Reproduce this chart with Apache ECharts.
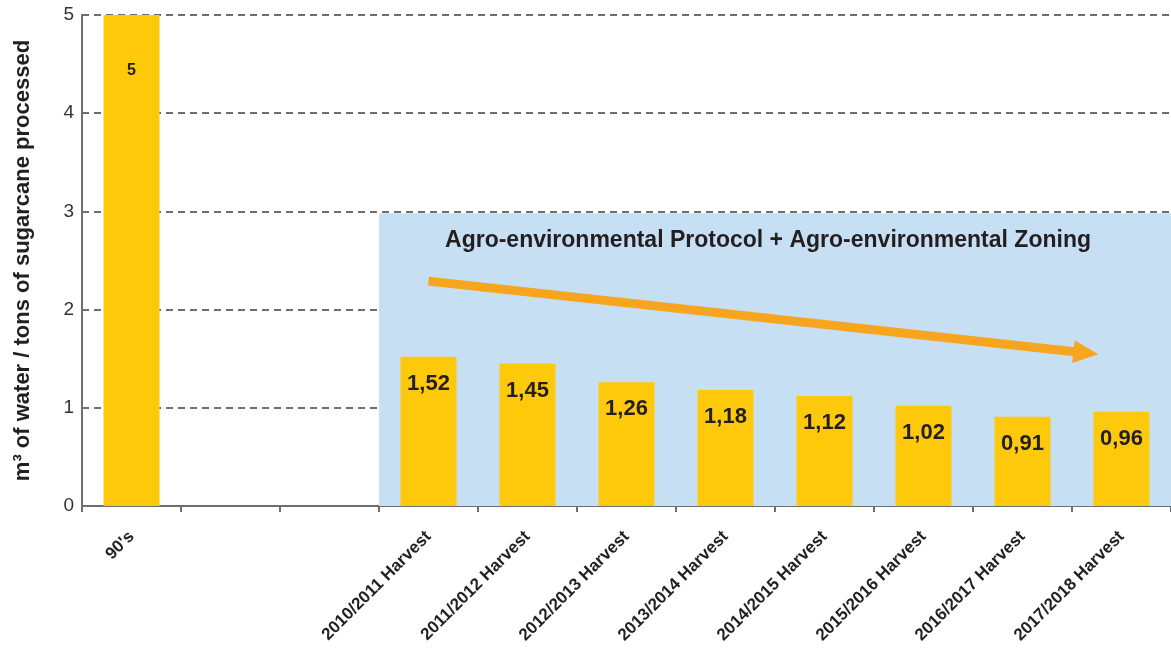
<!DOCTYPE html>
<html>
<head>
<meta charset="utf-8">
<script src="https://cdn.jsdelivr.net/npm/echarts@6/dist/echarts.min.js"></script>
<style>
  html, body { margin: 0; padding: 0; background: #fff; }
  #chart { width: 1171px; height: 654px; }
</style>
</head>
<body>
<div id="chart"></div>
<script>
// categories on the x axis (two blank slots between the 90's and the harvests)
const categories = ["90's", '', ' ', '2010/2011 Harvest', '2011/2012 Harvest', '2012/2013 Harvest',
  '2013/2014 Harvest', '2014/2015 Harvest', '2015/2016 Harvest', '2016/2017 Harvest', '2017/2018 Harvest'];
// m3 of water per ton of sugarcane
const waterUse = [5, null, null, 1.52, 1.45, 1.26, 1.18, 1.12, 1.02, 0.91, 0.96];
const yTicks = [0, 1, 2, 3, 4, 5];

// shaded period (in category units) and trend arrow
const protocolSpan = [3, 11];
const protocolTop = 2.98;
const protocolText = 'Agro-environmental Protocol + Agro-environmental Zoning';
const trendStart = [3.5, 2.29];
const trendEnd = [10.14, 1.558];

const FONT = '"Liberation Sans", Arial, sans-serif';

const chart = echarts.init(document.getElementById('chart'));

const barData = waterUse.map((v, i) => {
  if (i === 0) {
    return { value: v, label: { fontSize: 16, distance: 48 } };
  }
  return v;
});

chart.setOption({
  animation: false,
  grid: { left: 82, top: 15, width: 1093, bottom: 148 },
  xAxis: [
    {
      type: 'category',
      data: categories,
      axisLine: { lineStyle: { color: '#6d6e70', width: 2 } },
      axisTick: { show: true, interval: 0, lineStyle: { color: '#6d6e70', width: 2 }, length: 6 },
      axisLabel: {
        interval: 0,
        rotate: 45,
        margin: 28,
        fontFamily: FONT,
        fontWeight: 'bold',
        fontSize: 17,
        color: '#231f20'
      }
    },
    {
      // helper axis in category units, used for the shaded box and the arrow
      type: 'value',
      min: 0,
      max: 11,
      show: false
    }
  ],
  yAxis: {
    type: 'value',
    min: 0,
    max: 5,
    interval: 1,
    name: 'm³ of water / tons of sugarcane processed',
    nameLocation: 'middle',
    nameGap: 48,
    nameTextStyle: {
      fontFamily: FONT,
      fontWeight: 'bold',
      fontSize: 22,
      color: '#231f20'
    },
    axisLine: { show: true, lineStyle: { color: '#6d6e70', width: 2 } },
    axisTick: { show: false },
    axisLabel: {
      margin: 8,
      fontFamily: FONT,
      fontSize: 19,
      color: '#333',
      formatter: (v) => yTicks.includes(v) ? String(v) : ''
    },
    splitLine: { lineStyle: { color: '#6d6e70', width: 2, type: [7, 5] } }
  },
  series: [
    {
      type: 'line',
      xAxisIndex: 1,
      data: [],
      silent: true,
      z: 1,
      markArea: {
        silent: true,
        itemStyle: { color: '#c6dff2' },
        label: {
          show: true,
          position: 'insideTop',
          distance: 16,
          offset: [-7, 0],
          fontFamily: FONT,
          fontWeight: 'bold',
          fontSize: 23,
          color: '#231f20'
        },
        data: [[
          { name: protocolText, coord: [protocolSpan[0], protocolTop] },
          { coord: [protocolSpan[1], 0] }
        ]]
      },
      markLine: {
        silent: true,
        symbol: ['none', 'triangle'],
        symbolSize: [23, 25],
        label: { show: false },
        lineStyle: { color: '#f7a51f', width: 9, type: 'solid' },
        data: [[
          { coord: trendStart },
          { coord: trendEnd }
        ]]
      }
    },
    {
      type: 'bar',
      data: barData,
      barWidth: 56,
      z: 3,
      itemStyle: { color: '#ffc90b' },
      label: {
        show: true,
        position: 'insideTop',
        distance: 16,
        fontFamily: FONT,
        fontWeight: 'bold',
        fontSize: 22,
        color: '#231f20',
        formatter: (p) => String(p.value).replace('.', ',')
      }
    }
  ]
});
</script>
</body>
</html>
